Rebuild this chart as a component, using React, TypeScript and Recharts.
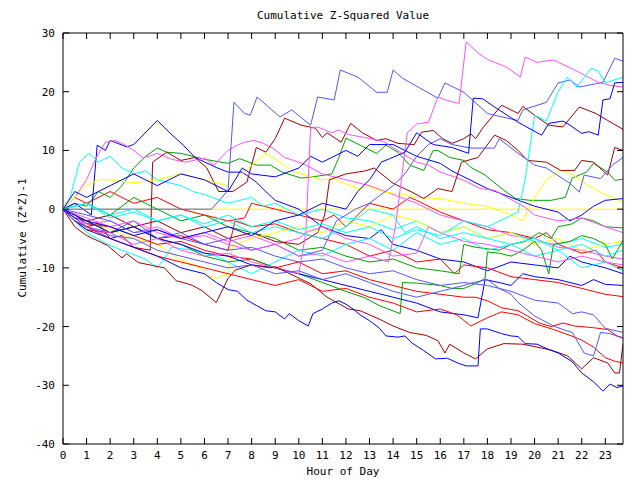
import { LineChart, Line, XAxis, YAxis } from "recharts";

const FONT = '"DejaVu Sans Mono", monospace';

const RED = "#ff0000";
const GREEN = "#00a000";
const BLUE = "#0000ff";
const MAGENTA = "#ff50ff";
const CYAN = "#00ffff";
const DARKRED = "#a00000";
const YELLOW = "#ffff00";
const VIOLET = "#5555ff";

const hourTicks = [0, 1, 2, 3, 4, 5, 6, 7, 8, 9, 10, 11, 12, 13, 14, 15, 16, 17, 18, 19, 20, 21, 22, 23];
const valueTicks = [-40, -30, -20, -10, 0, 10, 20, 30];

// [hour, cumulative (z*z)-1]
const yellowZero = [[0, 0], [23.75, 0]];
const violetTop = [[0, 0], [6.3, 0], [7, 3.2], [7.25, 18.2], [7.7, 16.3], [7.94, 16], [8.1, 17.7], [8.23, 19.1], [9.2, 15.7], [9.7, 16.9], [10.5, 14.3], [10.8, 19.1], [11.5, 18.6], [11.76, 23.7], [12.5, 22.5], [13.3, 19.9], [13.75, 19.9], [14, 23.7], [14.4, 22.3], [15.9, 18.9], [16.2, 21.5], [17, 19.9], [18, 16.3], [18.3, 16], [19.3, 15.1], [19.5, 16.9], [20.5, 18.2], [21, 21.5], [21.5, 22], [21.9, 20.8], [22.9, 21.6], [23.4, 25.7], [23.75, 25.2]];
const magentaTop = [[0, 0], [1, -1.5], [2, -3], [3, -2], [4, -4], [5, -5], [6, -4.5], [7, -6], [8, -7], [9, -6], [10, -8], [11, -7.5], [12, -9], [13, -8], [13.8, -9], [14.1, -3], [14.6, 13], [15, 14.5], [15.5, 14.8], [15.9, 19.1], [16.3, 18.5], [16.8, 18], [17.1, 28.5], [17.6, 26.6], [18, 25.5], [18.8, 24.2], [19.4, 22.5], [19.6, 25.9], [20.1, 25], [20.8, 25.4], [21.7, 23.7], [22.7, 21.6], [23.2, 21.1], [23.75, 20.8]];
const cyanTop = [[0, 0], [1, 1], [2, -1.5], [3, -0.5], [4, -2], [5, -1], [6, -2.5], [7, -1], [8, -3], [9, -2], [10, -3.5], [11, -2.5], [12, -4], [13, -3], [14, -5], [15, -3.5], [16, -4.5], [17, -2], [18, -3], [19.3, -0.5], [19.6, 5], [20, 16], [20.5, 15], [21, 20], [21.4, 22.5], [21.8, 20.8], [22.4, 24], [22.7, 23.5], [23, 21.5], [23.75, 22.5]];
const blueJump = [[0, 0], [1, -2], [2, -3], [3, -4.5], [4, -3.5], [5, -5], [6, -4], [7, -3], [8, -4.5], [9, -2], [10, -1], [11, 1], [12, 0], [12.5, 3], [13, 5], [13.5, 8], [14.5, 9.7], [15, 13], [15.7, 11], [16.5, 10.5], [17.2, 9.5], [17.4, 18.9], [17.8, 18.8], [18.3, 17.4], [19.3, 14.8], [20.3, 12.6], [20.6, 14.6], [21.2, 15], [21.5, 14.3], [22, 12.9], [22.3, 13.2], [22.7, 12.6], [22.9, 18.6], [23.2, 18.8], [23.4, 21.5], [23.75, 21.6]];
const darkredHigh = [[0, 0], [0.5, -2], [1, -3], [1.5, -2.5], [2, -5], [2.5, -4.5], [3, -6.5], [3.7, -7], [3.8, 8], [4.4, 9.7], [5, 8.3], [5.6, 8.8], [6.1, 7], [6.6, 3], [7.2, 3], [7.8, 4.6], [8.2, 10.5], [8.6, 9.7], [9, 12], [9.4, 15.5], [10.1, 14.3], [10.7, 13.8], [11, 12.2], [11.2, 13], [11.8, 11.4], [12.2, 14.6], [12.7, 13], [13.3, 11.7], [13.7, 12], [14.2, 11.2], [14.9, 11], [15.2, 13.1], [15.7, 13.4], [16.1, 12], [16.5, 11.2], [17, 12], [17.3, 12.8], [17.5, 12], [17.8, 13.8], [18.6, 17.7], [19.3, 16.3], [19.5, 17.5], [20.1, 15.7], [20.6, 14.3], [21.2, 14], [21.9, 17.4], [22.6, 16.3], [23.1, 15.1], [23.75, 13.6]];
const darkredMid = [[0, 0], [1, -2], [2, -1], [3, -3], [4, -2], [5, -4], [6, -3], [7, -5], [8, -4], [9, -5.5], [10, -6], [10.8, -4], [11.1, -1], [11.3, 5], [12, 6], [12.8, 6.5], [13.2, 7], [14, 4.4], [14.8, 2.9], [15.3, 1.8], [15.9, 3.5], [16.5, 3], [16.9, 8], [17.6, 8.8], [18.3, 12.6], [18.8, 11.7], [19.3, 10], [19.7, 8.3], [20.5, 8], [21.1, 6.6], [21.7, 6.6], [22, 8.3], [22.5, 8], [23.1, 5.8], [23.4, 10.5], [23.75, 10]];
const violetMid = [[0, 0], [1, -3], [2, -4], [3, -2], [4, -5], [5, -4], [6, -6], [7, -5], [8, -7], [9, -6], [10, -8], [11, -7], [11.6, -2], [12.4, 0], [13, 1], [14, 4], [14.5, 6], [15, 9], [15.5, 11], [16, 12], [16.5, 11], [17.3, 10.4], [18.3, 10.4], [18.5, 12], [19.3, 9.5], [20, 7.5], [20.5, 7], [21.5, 4.4], [21.9, 2.9], [22.1, 5.8], [22.8, 5.2], [23.3, 7.5], [23.75, 8.8]];
const greenHigh = [[0, 0], [0.5, 1], [1, 0.5], [1.5, 3], [2, 2], [2.5, 4], [3, 7], [3.5, 9], [4, 10.4], [4.4, 9.7], [5, 9.5], [6, 8.5], [7, 7.8], [7.5, 8.6], [8.2, 7.5], [8.8, 7.5], [9.3, 6.3], [10.1, 5.3], [10.6, 5.5], [11.4, 6], [11.7, 8.8], [12, 12.1], [12.6, 10.9], [13.3, 9.5], [13.7, 10.9], [14.2, 9.7], [14.7, 7.5], [15.3, 6.6], [15.7, 10], [15.9, 10], [16.4, 8.8], [17, 8.3], [17.3, 7.1], [17.9, 5.8], [18.7, 3.2], [19.2, 1.8], [19.8, 1.5], [20.7, 1.5], [21.3, 2], [21.6, 5.3], [22.2, 6.3], [22.5, 7.8], [23.1, 6.3], [23.4, 4.9], [23.75, 5.1]];
const blueEarly = [[0, 0], [0.5, 1], [1.2, -1], [1.45, 10.9], [1.8, 10], [2, 11.7], [2.7, 10.6], [3, 11], [4, 15.1], [4.5, 13.1], [5.1, 10.9], [5.6, 8.8], [6.5, 7.1], [7, 6.3], [7.6, 6.3], [8.2, 4.6], [8.6, 3], [9, 1.5], [10, 0], [10.5, -1.5], [11, -3], [12, -4.5], [13, -5], [13.5, -3.5], [14, -6], [15, -7], [16, -8.5], [17, -9], [18, -10.5], [19, -9], [20, -9.5], [21, -10], [21.5, -8], [22, -9], [23, -10], [23.75, -11]];
const magentaEarly = [[0, 0], [0.5, 2], [1, 5], [1.4, 8.7], [1.8, 11.4], [2.2, 11.7], [2.6, 11], [3, 10], [3.4, 8.7], [4, 9.5], [4.6, 8.5], [5.2, 8], [6, 8.7], [6.4, 7.5], [7, 10], [7.4, 10.9], [7.7, 11.4], [8.1, 11.7], [8.5, 11.2], [8.9, 10.4], [9.4, 8.8], [10, 8], [10.3, 7.5], [11, 6], [12, 5], [13, 4], [14, 2.5], [15, 1], [16, -1], [17, -2], [18, -3], [19, -4.5], [20, -5], [21, -6.5], [22, -7], [23, -8], [23.75, -8.5]];
const magentaJump = [[0, 0], [0.5, -1.5], [1, -2.5], [2, -2], [3, -4], [4, -3], [5, -5], [6, -4], [7, -5.5], [8, -4.5], [9, -6], [10, -5], [10.3, -4], [10.5, 13.8], [10.8, 14], [11.4, 13], [11.7, 13.5], [12.1, 12.7], [12.8, 12.2], [13.6, 11.5], [14.3, 9.7], [15, 8], [15.5, 7.5], [16, 6.3], [16.6, 5.5], [17, 4.9], [17.7, 3.5], [18.3, 3.2], [19.2, 1.2], [19.6, 0.3], [20, -1], [21, -2], [22, -1.5], [23, -3], [23.75, -4]];
const cyanEarly = [[0, 0], [0.3, 2], [0.7, 8], [1.1, 9.5], [1.5, 8], [2, 9], [2.5, 7], [3, 6], [3.5, 6.5], [4, 5], [5, 4], [5.5, 3], [6, 2.5], [7, 1], [8, 2], [8.5, 0.5], [9, 1], [10, -1], [11, 0], [12, -1.5], [13, -2], [14, -3.5], [15, -2], [16, -4], [17, -3], [18, -5], [19, -4], [20, -5.5], [21, -6], [22, -5], [23, -6.5], [23.75, -6]];
const yellowHigh = [[0, 0], [0.5, 2], [1, 4], [1.5, 5], [2, 5], [3, 4.5], [4, 5], [5, 6], [6, 5], [7, 4], [7.9, 7.1], [8.6, 9.5], [9.2, 8], [9.7, 6.5], [10.3, 5.8], [10.9, 5], [11.5, 5.2], [11.8, 4.6], [12.5, 3.5], [13, 3.8], [13.6, 2.9], [14.5, 2.5], [15, 2], [16, 1.8], [17, 1], [18, 0.5], [19, -1], [19.5, -2], [20, 2], [20.5, 5], [21.1, 6.6], [21.6, 5.9], [22.3, 4], [22.8, 2.9], [23.75, 1.2]];
const yellowLow = [[0, 0], [1, -2], [2, -3.5], [3, -5], [4, -6], [5, -8.7], [5.8, -9.9], [6.2, -11.3], [6.5, -11.8], [7, -11], [7.2, -6.2], [8, -5], [9, -4], [10, -3], [11, -4], [12, -2], [13, -3], [14, -1], [15, -2], [16, -4], [17, -3], [18, -5], [19, -4], [20, -6], [21, -5], [22, -7], [23, -6], [23.75, -5.5]];
const cyanLow = [[0, 0], [0.5, -2], [1, -4], [1.8, -5.8], [2.5, -7], [3.5, -8.5], [4, -10], [4.3, -8.5], [4.6, -6.5], [5.5, -7], [6.5, -8], [7.5, -10], [8, -11], [8.5, -10], [9, -9], [10, -7], [11, -8], [12, -6], [13, -5], [14, -7], [15, -4], [16, -6], [17, -5], [18, -7], [19, -6], [20, -8], [21, -7], [22, -10], [23, -9], [23.75, -10.5]];
const cyanMid = [[0, 0], [1, 1], [2, -1], [3, 0], [4, -2], [5, -1], [6, -3], [7, -2], [8, -4], [9, -3], [10, -4], [11, -5], [12, -3], [13, 0], [14, -1], [14.5, -4], [15, -3], [16, -5], [17, -4], [18, -5], [19, -6], [20, -5], [21, -7], [22, -6], [23, -8], [23.75, -7]];
const greenLow = [[0, 0], [1, -2], [2, -4], [3, -3], [4, -5], [5, -6], [6, -8], [7, -9], [8, -8.5], [9, -10], [10, -11], [11, -12.5], [12, -14], [12.8, -15.1], [13.4, -16.4], [14.3, -17.8], [14.4, -12.5], [15, -12.6], [16, -13], [16.5, -13.5], [17, -13.5], [17.6, -12.5], [17.9, -11.8], [18, -7.3], [18.5, -7.5], [19, -8], [19.5, -7], [20, -5.5], [20.3, -7], [20.6, -11], [20.8, -6], [21.5, -5.5], [22, -4.5], [22.5, -5], [23, -6], [23.3, -8.5], [23.75, -5.3]];
const greenMid = [[0, 0], [1, 1], [2, -1], [3, 2], [4, 0], [5, -2], [6, -1], [7, -3], [8, -4], [9, -5], [10, -7], [11, -6.5], [12, -8], [13, -9], [14, -8.5], [15, -10], [16, -10.5], [16.8, -11], [17, -6], [17.5, -6.5], [18.5, -7], [19, -6], [19.6, -5.5], [20.2, -4], [20.7, -5], [21, -3], [21.6, -2.5], [22, -1.5], [22.5, -2], [23, -3], [23.75, -3.2]];
const blueMid = [[0, 0], [0.5, -1.5], [1, -2], [2, -4], [3, -3], [4, -5], [5, -6], [6, -7.5], [7, -8], [8, -9.5], [9, -10], [10, -11], [11, -12], [12, -13], [13, -14], [14, -15], [15, -16], [16, -17.5], [17, -18], [17.6, -18.5], [17.9, -12], [18.5, -12.5], [19, -13], [19.5, -11], [20, -11.5], [21, -12], [22, -13], [22.5, -12], [23, -12.8], [23.75, -13]];
const blueLevel = [[0, 0], [0.5, 3], [1, 2], [2, 4], [3, 6], [3.5, 5], [4, 4], [5, 6], [6, 5], [7, 3], [7.6, 7], [8, 6], [9, 5.5], [10, 7], [10.5, 9], [11, 8], [12, 10], [12.5, 9], [13, 11], [14, 11], [15, 9], [16, 7.8], [16.5, 6.5], [17, 5.5], [18, 3.5], [19, 2], [20, 0.5], [21, -0.5], [21.5, -2], [22, -1], [22.5, 0.5], [23, 1.5], [23.75, 1.8]];
const blueBottom = [[0, 0], [0.5, -2], [1, -3.5], [2, -5], [3, -6.5], [4, -8], [5, -10], [6, -11], [6.5, -12.5], [7, -13.7], [7.4, -14], [7.8, -15.5], [8.2, -16.4], [8.6, -17.3], [9, -17.5], [9.4, -18.7], [9.6, -17.8], [10, -19], [10.4, -19.9], [10.6, -17.8], [11, -17], [11.4, -16], [11.7, -15.6], [12, -16.2], [12.3, -17], [12.6, -18], [13, -19], [13.4, -20.2], [13.7, -21.6], [14.2, -21.8], [14.5, -21.6], [14.8, -22.8], [15.3, -24.1], [15.8, -25.5], [16.3, -25.4], [16.8, -26.3], [17.1, -26.7], [17.6, -26.7], [17.7, -20.4], [18, -20.4], [18.6, -21.2], [19, -21.6], [19.3, -21.7], [19.6, -22.9], [20.1, -23], [20.6, -23.9], [21, -24.5], [21.6, -26], [22, -27.9], [22.5, -29.4], [22.9, -31], [23.2, -29.8], [23.5, -30.4], [23.75, -30.1]];
const darkredLow = [[0, 0], [0.5, -3], [1, -4.5], [1.9, -6.2], [2.5, -8.3], [2.7, -7.6], [3.2, -9.1], [3.8, -9.6], [4.3, -10], [4.8, -12.2], [5.1, -12.5], [5.5, -13], [5.9, -13.9], [6.5, -15.9], [7, -11.8], [7.3, -10.4], [8, -9.5], [8.8, -10], [9, -9.8], [10.5, -12.7], [11.2, -15], [12.1, -17], [12.6, -17.3], [13.4, -18.7], [14, -19.9], [14.7, -21], [15.4, -21.5], [15.9, -22.4], [16.2, -24.5], [16.4, -23], [17, -24.5], [17.5, -25.5], [18, -23.8], [18.7, -22.9], [19.5, -23], [20.7, -24], [21.4, -25], [22, -27.2], [22.5, -25.3], [23.1, -26.2], [23.4, -27.9], [23.6, -27.9], [23.75, -23]];
const redUpper = [[0, 0], [0.5, 2], [1, 1], [2, 3], [3, 1], [4, 2], [5, 0], [6, -1], [7, -2], [7.7, -1.5], [8, 1], [9, 0], [10, -1], [11, -2], [11.5, -1], [12, -3], [13, 1], [14, 0], [14.7, 2], [15, 1.5], [16, -0.5], [17, -2], [18, -3.5], [19, -4], [20, -5], [20.5, -4], [21, -6], [22, -7.5], [22.6, -7], [23, -9], [23.75, -10]];
const redMid = [[0, 0], [0.5, -2], [1, -3.5], [2, -4], [3, -3], [4, -5], [5, -4.5], [6, -6], [7, -7], [7.3, -2], [8, -3], [9, -2.5], [10, -4], [11, -5], [12, -6], [13, -8], [14, -7], [15, -9], [16, -8.5], [16.6, -11], [17, -9.5], [18, -10], [19, -11.5], [20, -12], [21, -12.5], [22, -13.5], [23, -14.5], [23.75, -14.9]];
const redLower = [[0, 0], [0.5, -1], [1, -2.5], [2, -3], [3, -4.5], [4, -6], [5, -5.5], [6, -7], [7, -8], [8, -8.5], [9, -10], [10, -9], [11, -11], [12, -10.5], [13, -12], [14, -13], [15, -14], [16, -14.5], [17, -15], [17.5, -15], [18, -15.6], [18.6, -16.8], [19.3, -17.3], [19.7, -18.2], [20.2, -19.4], [20.7, -20], [21.2, -19.4], [21.7, -19.9], [22.5, -20.2], [23.1, -20.5], [23.5, -21.6], [23.75, -21.9]];
const redBottom = [[0, 0], [0.5, -2], [1, -3], [2, -5], [3, -6.5], [4, -8], [5, -9], [6, -10], [7, -11], [8, -12], [9, -13], [10, -12], [11, -14], [12, -13.5], [13, -15], [14, -16], [15, -17.5], [16, -17], [16.7, -18], [17.3, -19.9], [18, -18.5], [18.6, -17.5], [19.3, -18], [20, -19.5], [20.8, -20.5], [21.5, -21.5], [22, -22.3], [22.5, -23.5], [23, -25.3], [23.4, -25.9], [23.75, -26.2]];
const violetLow = [[0, 0], [0.5, -2], [1, -3], [2, -4.5], [3, -5], [4, -7], [5, -8], [6, -9], [7, -10], [8, -9.5], [9, -11], [10, -10.5], [11, -12], [12, -11], [13, -12.5], [14, -14], [15, -15], [16, -14], [17, -13], [17.4, -12.5], [18, -12], [18.5, -13.5], [19, -14.5], [19.3, -15.9], [20, -18.2], [20.8, -19.9], [21.2, -20.5], [21.6, -21], [22.1, -24.5], [22.5, -25], [22.8, -21], [23.2, -21.2], [23.75, -22]];
const violetLower = [[0, 0], [1, -1], [2, -2], [3, -4], [4, -3.5], [5, -5], [6, -6], [7, -7], [8, -6.5], [9, -8], [10, -9], [11, -8.5], [12, -10], [13, -11], [14, -10.5], [15, -12], [16, -13], [17, -12.5], [18, -13], [19, -14], [20, -15.5], [21, -16], [21.6, -17.8], [22, -17.5], [22.5, -18], [23, -20.3], [23.75, -21]];
const magentaLow = [[0, 0], [0.5, -1], [1, -3], [2, -4], [3, -6], [4, -5], [5, -7], [6, -8], [7, -7.5], [8, -9], [9, -10], [10, -11], [10.3, -4], [11, -3], [12, -5], [13, -6], [14, -8], [15, -7.5], [15.5, -3], [16, -4], [17, -5.5], [18, -6], [19, -7], [20, -8], [21, -9], [22, -8], [23, -9], [23.75, -9.5]];

const series = [
  { id: "yellowZero", color: YELLOW, pts: yellowZero },
  { id: "redUpper", color: RED, pts: redUpper },
  { id: "greenHigh", color: GREEN, pts: greenHigh },
  { id: "blueEarly", color: BLUE, pts: blueEarly },
  { id: "magentaEarly", color: MAGENTA, pts: magentaEarly },
  { id: "cyanEarly", color: CYAN, pts: cyanEarly },
  { id: "darkredHigh", color: DARKRED, pts: darkredHigh },
  { id: "yellowHigh", color: YELLOW, pts: yellowHigh },
  { id: "violetTop", color: VIOLET, pts: violetTop },
  { id: "redMid", color: RED, pts: redMid },
  { id: "greenMid", color: GREEN, pts: greenMid },
  { id: "blueLevel", color: BLUE, pts: blueLevel },
  { id: "magentaJump", color: MAGENTA, pts: magentaJump },
  { id: "cyanLow", color: CYAN, pts: cyanLow },
  { id: "darkredMid", color: DARKRED, pts: darkredMid },
  { id: "yellowLow", color: YELLOW, pts: yellowLow },
  { id: "violetMid", color: VIOLET, pts: violetMid },
  { id: "redLower", color: RED, pts: redLower },
  { id: "greenLow", color: GREEN, pts: greenLow },
  { id: "blueMid", color: BLUE, pts: blueMid },
  { id: "magentaLow", color: MAGENTA, pts: magentaLow },
  { id: "cyanMid", color: CYAN, pts: cyanMid },
  { id: "darkredLow", color: DARKRED, pts: darkredLow },
  { id: "violetLower", color: VIOLET, pts: violetLower },
  { id: "redBottom", color: RED, pts: redBottom },
  { id: "blueBottom", color: BLUE, pts: blueBottom },
  { id: "magentaTop", color: MAGENTA, pts: magentaTop },
  { id: "cyanTop", color: CYAN, pts: cyanTop },
  { id: "violetLow", color: VIOLET, pts: violetLow },
  { id: "blueJump", color: BLUE, pts: blueJump },
];

const textStyle = { fontFamily: FONT, fontSize: 11, fill: "#000" };

const BottomTick = (p: any) => (
  <g>
    <line x1={p.x} x2={p.x} y1={p.y} y2={p.y - 6} stroke="#000" />
    <text x={p.x} y={p.y + 15} textAnchor="middle" style={textStyle}>
      {p.payload.value}
    </text>
  </g>
);

const TopTick = (p: any) => <line x1={p.x} x2={p.x} y1={p.y} y2={p.y + 6} stroke="#000" />;

const LeftTick = (p: any) => (
  <g>
    <line x1={p.x} x2={p.x + 6} y1={p.y} y2={p.y} stroke="#000" />
    <text x={p.x - 8} y={p.y + 4} textAnchor="end" style={textStyle}>
      {p.payload.value}
    </text>
  </g>
);

const RightTick = (p: any) => <line x1={p.x} x2={p.x - 6} y1={p.y} y2={p.y} stroke="#000" />;

export default function App() {
  return (
    <div style={{ position: "absolute", left: 0, top: 0, width: 640, height: 480, background: "#fff" }}>
      <div
        style={{
          position: "absolute", left: 63, top: 9, width: 560, textAlign: "center",
          fontFamily: FONT, fontSize: 11, color: "#000",
        }}
      >
        Cumulative Z-Squared Value
      </div>
      <div
        style={{
          position: "absolute", left: 22, top: 238, transform: "translate(-50%, -50%) rotate(-90deg)",
          whiteSpace: "nowrap", fontFamily: FONT, fontSize: 11, color: "#000",
        }}
      >
        Cumulative (Z*Z)-1
      </div>
      <div
        style={{
          position: "absolute", left: 63, top: 465, width: 560, textAlign: "center",
          fontFamily: FONT, fontSize: 11, lineHeight: "13px", color: "#000",
        }}
      >
        Hour of Day
      </div>
      <LineChart width={640} height={480} margin={{ top: 32, right: 16, bottom: 0, left: 0 }}>
        <XAxis
          dataKey="h" type="number" domain={[0, 23.75]} ticks={hourTicks} interval={0}
          allowDataOverflow height={36} tickSize={0} tickMargin={0} tickLine={false}
          axisLine={{ stroke: "#000" }} tick={<BottomTick />}
        />
        <XAxis
          xAxisId="top" orientation="top" dataKey="h" type="number" domain={[0, 23.75]}
          ticks={hourTicks} interval={0} allowDataOverflow height={1} tickSize={0} tickMargin={0}
          tickLine={false} axisLine={{ stroke: "#000" }} tick={<TopTick />}
        />
        <YAxis
          type="number" domain={[-40, 30]} ticks={valueTicks} interval={0} allowDataOverflow
          width={63} tickSize={0} tickMargin={0} tickLine={false}
          axisLine={{ stroke: "#000" }} tick={<LeftTick />}
        />
        <YAxis
          yAxisId="right" orientation="right" type="number" domain={[-40, 30]} ticks={valueTicks}
          interval={0} allowDataOverflow width={1} tickSize={0} tickMargin={0} tickLine={false}
          axisLine={{ stroke: "#000" }} tick={<RightTick />}
        />
        {series.map((s) => (
          <Line
            key={s.id}
            data={s.pts.map(([h, v]) => ({ h, v }))}
            dataKey="v"
            type="linear"
            stroke={s.color}
            strokeWidth={1}
            dot={false}
            activeDot={false}
            isAnimationActive={false}
          />
        ))}
      </LineChart>
    </div>
  );
}
